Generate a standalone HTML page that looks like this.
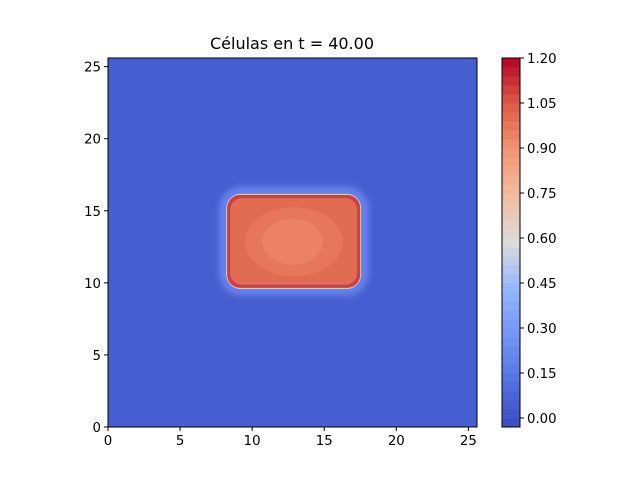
<!DOCTYPE html>
<html><head><meta charset="utf-8"><style>
body{margin:0;background:#fff;}
svg{display:block;font-family:"DejaVu Sans","Liberation Sans",sans-serif;}
</style></head><body>
<svg id="chart" width="640" height="480" viewBox="0 0 640 480">
<defs><filter id="blur" x="-20%" y="-20%" width="140%" height="140%"><feGaussianBlur stdDeviation="3"/></filter></defs>
<text x="292" y="49" text-anchor="middle" font-size="16" fill="#000">Células en t = 40.00</text>
<g id="plot"></g>
<g id="cbar"></g>
</svg>
<script>
// data
const xTicks = [0, 5, 10, 15, 20, 25];
const yTicks = [0, 5, 10, 15, 20, 25];
const cbTicks = [0.00, 0.15, 0.30, 0.45, 0.60, 0.75, 0.90, 1.05, 1.20];
const levelMin = -0.03, levelMax = 1.20, levelStep = 0.03;
// field regions (data coordinates)
const regionX0 = [0, 2.0, 7.7, 8.2, 8.26, 8.48];
const regionX1 = [25.6, 23.6, 18.1, 17.56, 17.5, 17.28];
const regionY0 = [0, 3.2, 9.1, 9.58, 9.65, 9.87];
const regionY1 = [25.6, 22.5, 16.7, 16.17, 16.1, 15.88];
const regionVal = [0.03, 0.05, 0.2, 0.62, 1.1, 1.0];
const regionRound = [0, 8, 1.6, 1.0, 0.9, 0.8];
// inner ellipses
const ellCx = [12.9, 12.8];
const ellCy = [12.85, 12.85];
const ellRx = [3.4, 2.1];
const ellRy = [2.4, 1.6];
const ellVal = [0.97, 0.93];

const NS = "http://www.w3.org/2000/svg";
const L = 108, R = 477, T = 58, B = 427;
const xs = v => L + (v / 25.6) * (R - L);
const ys = v => B - (v / 25.6) * (B - T);
const CB_L = 502, CB_R = 520;
const cs = v => B - (v - levelMin) / (levelMax - levelMin) * (B - T);

const anchors = [[0,[59,76,192]],[0.125,[84,113,224]],[0.25,[116,149,245]],[0.375,[149,181,253]],[0.5,[220,220,221]],[0.625,[242,189,162]],[0.75,[243,150,116]],[0.875,[219,92,72]],[1,[180,4,38]]];
function cmap(t){t=Math.max(0,Math.min(1,t));for(let i=1;i<anchors.length;i++){if(t<=anchors[i][0]){const a=anchors[i-1],b=anchors[i];const f=(t-a[0])/(b[0]-a[0]);const c=a[1].map((x,k)=>Math.round(x+(b[1][k]-x)*f));return `rgb(${c})`;}}return 'rgb(180,4,38)';}
function colorOf(v){const lv=Math.floor((v-levelMin)/levelStep+1e-9);const mid=levelMin+(lv+0.5)*levelStep;return cmap((mid-levelMin)/(levelMax-levelMin));}
function mk(tag,attrs,parent){const e=document.createElementNS(NS,tag);for(const k in attrs)e.setAttribute(k,attrs[k]);parent.appendChild(e);return e;}

const plot = document.getElementById('plot');
const clip = mk('clipPath',{id:'pc'},mk('defs',{},plot));
mk('rect',{x:L,y:T,width:R-L,height:B-T},clip);
const g = mk('g',{'clip-path':'url(#pc)'},plot);
for(let i=0;i<regionVal.length;i++){
  const x0=xs(regionX0[i]),x1=xs(regionX1[i]),y0=ys(regionY1[i]),y1=ys(regionY0[i]);
  const r=regionRound[i]*(R-L)/25.6;
  const e=mk('rect',{x:x0,y:y0,width:x1-x0,height:y1-y0,rx:r,ry:r,fill:colorOf(regionVal[i])},g);
  if(i===1)e.setAttribute('opacity','0.35');
  if(i===2)e.setAttribute('filter','url(#blur)');
  
  
}
for(let i=0;i<ellVal.length;i++){
  const e=mk('ellipse',{cx:xs(ellCx[i]),cy:ys(ellCy[i]),rx:ellRx[i]*(R-L)/25.6,ry:ellRy[i]*(B-T)/25.6,fill:colorOf(ellVal[i])},g);
  
  
}
const fr=mk('rect',{x:L,y:T,width:R-L,height:B-T,fill:'none',stroke:'#000','stroke-width':1},plot);


xTicks.forEach(v=>{const x=xs(v);mk('line',{x1:x,x2:x,y1:B,y2:B+4,stroke:'#000'},plot);
 const t=mk('text',{x:x,y:B+18,'text-anchor':'middle','font-size':13.3},plot);t.textContent=v;
 
 });
yTicks.forEach(v=>{const y=ys(v);mk('line',{x1:L-4,x2:L,y1:y,y2:y,stroke:'#000'},plot);
 const t=mk('text',{x:L-7,y:y+5,'text-anchor':'end','font-size':13.3},plot);t.textContent=v;
 
 });

const cb=document.getElementById('cbar');
const nLev=Math.round((levelMax-levelMin)/levelStep);
for(let i=0;i<nLev;i++){const lo=levelMin+i*levelStep,hi=lo+levelStep;
 const e=mk('rect',{x:CB_L,y:cs(hi),width:CB_R-CB_L,height:cs(lo)-cs(hi)+0.5,fill:cmap((lo+levelStep/2-levelMin)/(levelMax-levelMin))},cb);
 
 }
mk('rect',{x:CB_L,y:T,width:CB_R-CB_L,height:B-T,fill:'none',stroke:'#000'},cb);
cbTicks.forEach(v=>{const y=cs(v);mk('line',{x1:CB_R,x2:CB_R+4,y1:y,y2:y,stroke:'#000'},cb);
 const t=mk('text',{x:CB_R+7,y:y+5,'font-size':13.3},cb);t.textContent=v.toFixed(2);
 
 });
</script>
</body></html>
